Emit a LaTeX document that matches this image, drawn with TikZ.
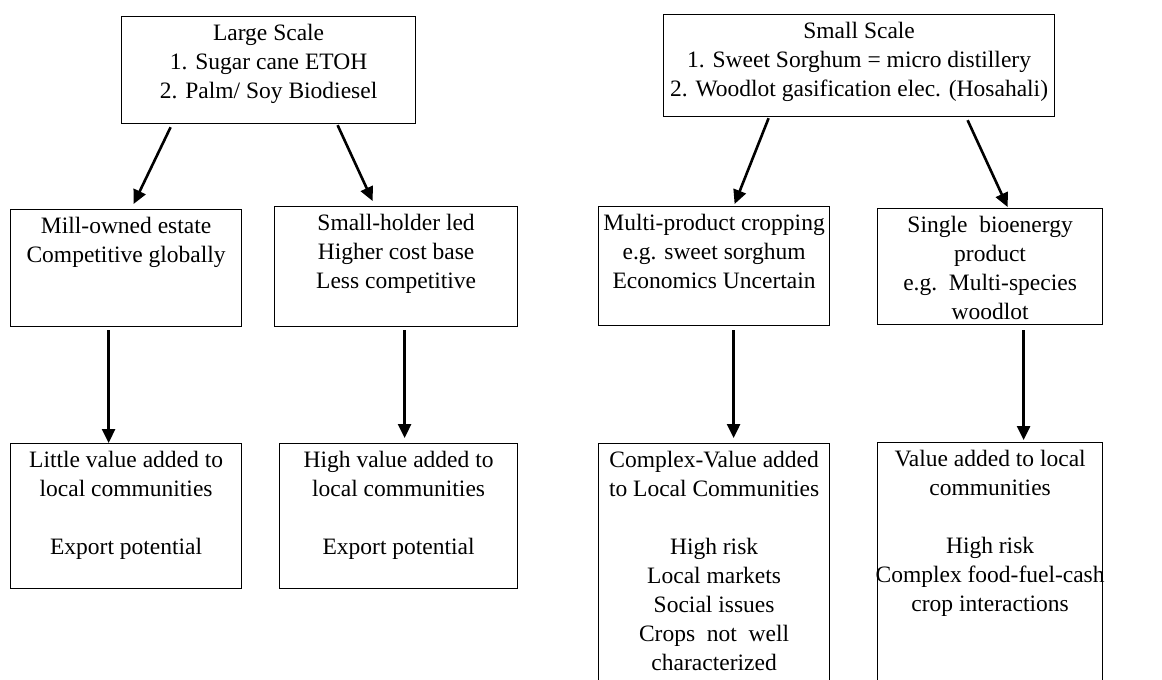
\documentclass[tikz,border=0pt]{standalone}
\usepackage{fontspec}
\setmainfont{Liberation Serif}
\usetikzlibrary{arrows.meta}
\newcommand{\bxt}[3]{\parbox[c][#2][t]{#1}{\centering\rule{0pt}{24pt}#3\par}}
\tikzset{
  bx/.style={draw, line width=1.2pt, inner sep=0pt, anchor=north west,
    font=\fontsize{23.5}{29}\selectfont},
  arr/.style={line width=2.6pt, -{Triangle[length=14pt,width=13pt]}}
}
\begin{document}
\begin{tikzpicture}[x=1pt,y=-1pt]
\clip (0,0) rectangle (1162,680);
\fill[white] (0,0) rectangle (1162,680);
% top row
\node[bx] (tl) at (121,16) {\bxt{294pt}{107pt}{Large Scale\\1. Sugar cane ETOH\\2. Palm/ Soy Biodiesel}};
\node[bx] (tr) at (663,14) {\bxt{391pt}{102pt}{Small Scale\\1. Sweet Sorghum = micro distillery\\2. Woodlot gasification elec. (Hosahali)}};
% middle row
\node[bx] (a) at (10,209) {\bxt{231pt}{117pt}{Mill-owned estate\\Competitive globally}};
\node[bx] (b) at (274,206) {\bxt{243pt}{120pt}{Small-holder led\\Higher cost base\\Less competitive}};
\node[bx] (c) at (598,206) {\bxt{231pt}{119pt}{Multi-product cropping\\e.g. sweet sorghum\\Economics Uncertain}};
\node[bx] (d) at (877,208) {\bxt{225pt}{116pt}{Single\ \ bioenergy\\product\\e.g.\ \ Multi-species\\woodlot}};
% bottom row
\node[bx] (e) at (10,443) {\bxt{231pt}{145pt}{Little value added to\\local communities\\[29pt]Export potential}};
\node[bx] (f) at (279,443) {\bxt{238pt}{145pt}{High value added to\\local communities\\[29pt]Export potential}};
\node[bx] (g) at (598,443) {\bxt{231pt}{260pt}{Complex-Value added\\to Local Communities\\[29pt]High risk\\Local markets\\Social issues\\Crops\ \ not\ \ well\\characterized}};
\node[bx] (h) at (877,442) {\bxt{225pt}{260pt}{Value added to local\\communities\\[29pt]High risk\\\makebox[\linewidth]{Complex food-fuel-cash}\\crop interactions}};
% connectors
\draw[arr] ([shift={(-98,3)}]tl.south) -- ([shift={(7.5,-5)}]a.north);
\draw[arr] ([shift={(69,1)}]tl.south) -- ([shift={(-23.5,-5)}]b.north);
\draw[arr] ([shift={(-90.5,1)}]tr.south) -- ([shift={(20.5,-2)}]c.north);
\draw[arr] ([shift={(108.5,3)}]tr.south) -- ([shift={(17.5,-1)}]d.north);
\draw[arr] ([shift={(-17.5,3)}]a.south) -- ([shift={(-17.5,0)}]e.north);
\draw[arr] ([shift={(8.5,3)}]b.south) -- ([shift={(6,-5)}]f.north);
\draw[arr] ([shift={(19.5,4)}]c.south) -- ([shift={(19.5,-5)}]g.north);
\draw[arr] ([shift={(33.5,5)}]d.south) -- ([shift={(33.5,-2)}]h.north);
\end{tikzpicture}
\end{document}
